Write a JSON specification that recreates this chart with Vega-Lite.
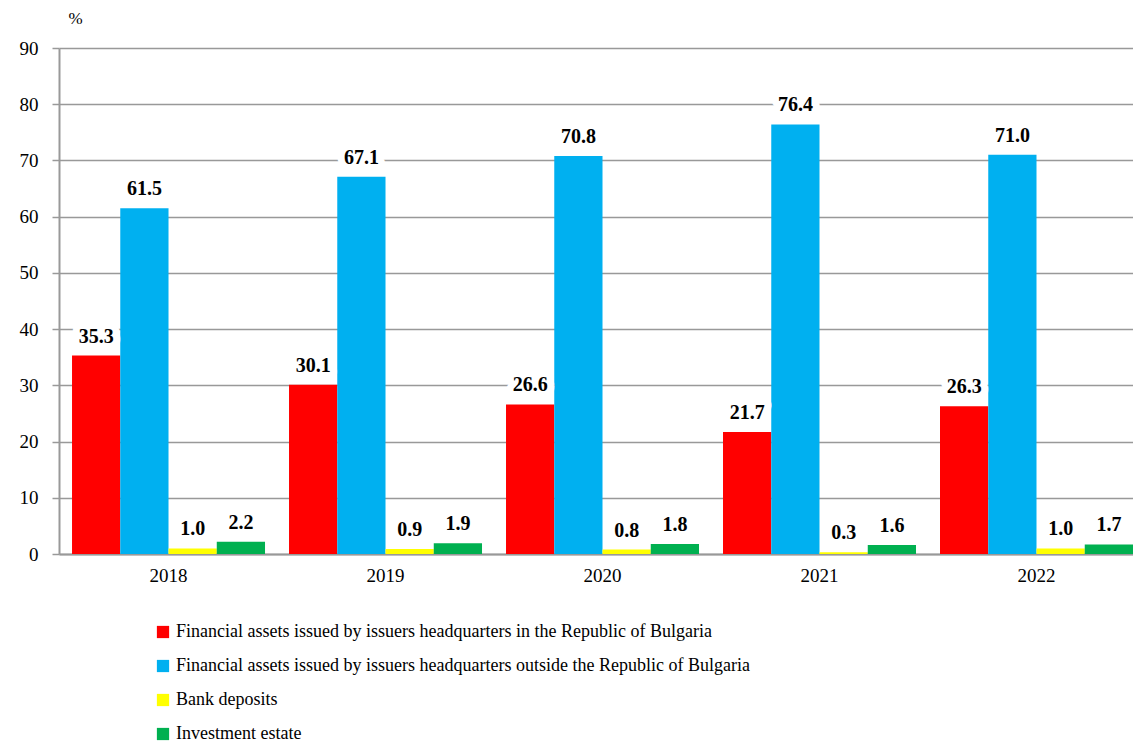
{
  "$schema": "https://vega.github.io/schema/vega-lite/v6.json",
  "width": 1074,
  "height": 506,
  "autosize": {"type": "none"},
  "padding": {"left": 59, "top": 48, "right": 0, "bottom": 188},
  "background": "white",
  "config": {
    "view": {"stroke": null},
    "font": "Liberation Serif, DejaVu Serif, serif"
  },
  "data": {
    "values": [
      {"year": "2018", "series": "Financial assets issued by issuers headquarters in the Republic of Bulgaria", "k": 1, "value": 35.3},
      {"year": "2018", "series": "Financial assets issued by issuers headquarters  outside the Republic of Bulgaria", "k": 2, "value": 61.5},
      {"year": "2018", "series": "Bank deposits", "k": 3, "value": 1.0},
      {"year": "2018", "series": "Investment estate", "k": 4, "value": 2.2},
      {"year": "2019", "series": "Financial assets issued by issuers headquarters in the Republic of Bulgaria", "k": 1, "value": 30.1},
      {"year": "2019", "series": "Financial assets issued by issuers headquarters  outside the Republic of Bulgaria", "k": 2, "value": 67.1},
      {"year": "2019", "series": "Bank deposits", "k": 3, "value": 0.9},
      {"year": "2019", "series": "Investment estate", "k": 4, "value": 1.9},
      {"year": "2020", "series": "Financial assets issued by issuers headquarters in the Republic of Bulgaria", "k": 1, "value": 26.6},
      {"year": "2020", "series": "Financial assets issued by issuers headquarters  outside the Republic of Bulgaria", "k": 2, "value": 70.8},
      {"year": "2020", "series": "Bank deposits", "k": 3, "value": 0.8},
      {"year": "2020", "series": "Investment estate", "k": 4, "value": 1.8},
      {"year": "2021", "series": "Financial assets issued by issuers headquarters in the Republic of Bulgaria", "k": 1, "value": 21.7},
      {"year": "2021", "series": "Financial assets issued by issuers headquarters  outside the Republic of Bulgaria", "k": 2, "value": 76.4},
      {"year": "2021", "series": "Bank deposits", "k": 3, "value": 0.3},
      {"year": "2021", "series": "Investment estate", "k": 4, "value": 1.6},
      {"year": "2022", "series": "Financial assets issued by issuers headquarters in the Republic of Bulgaria", "k": 1, "value": 26.3},
      {"year": "2022", "series": "Financial assets issued by issuers headquarters  outside the Republic of Bulgaria", "k": 2, "value": 71.0},
      {"year": "2022", "series": "Bank deposits", "k": 3, "value": 1.0},
      {"year": "2022", "series": "Investment estate", "k": 4, "value": 1.7}
    ]
  },
  "encoding": {
    "x": {
      "field": "year", "type": "nominal",
      "scale": {"paddingInner": 0.1106, "paddingOuter": 0.03, "align": 1},
      "axis": {
        "title": null, "labelAngle": 0, "labelFont": "Liberation Serif", "labelFontSize": 19,
        "labelColor": "black", "ticks": false, "labelPadding": 12,
        "domainColor": "#999999", "domainWidth": 2
      }
    },
    "xOffset": {"field": "k", "type": "ordinal", "scale": {"paddingInner": 0, "paddingOuter": 0}},
    "y": {
      "field": "value", "type": "quantitative",
      "scale": {"domain": [0, 90], "nice": false},
      "axis": {
        "values": [0, 10, 20, 30, 40, 50, 60, 70, 80, 90],
        "title": "%", "titleAngle": 0, "titleX": 9, "titleY": -30, "titleAlign": "left", "titleBaseline": "middle",
        "titleFont": "Liberation Serif", "titleFontSize": 17, "titleFontWeight": "normal", "titleColor": "black",
        "labelFont": "Liberation Serif", "labelFontSize": 19, "labelColor": "black", "labelPadding": 14,
        "tickSize": 7, "tickColor": "#999999", "tickWidth": 1.5,
        "domainColor": "#999999", "domainWidth": 2,
        "grid": true, "gridColor": "#999999", "gridWidth": 1.5
      }
    }
  },
  "layer": [
    {
      "mark": {"type": "bar", "width": {"band": 1}},
      "encoding": {
        "color": {
          "field": "series", "type": "nominal",
          "scale": {
            "domain": [
              "Financial assets issued by issuers headquarters in the Republic of Bulgaria",
              "Financial assets issued by issuers headquarters  outside the Republic of Bulgaria",
              "Bank deposits",
              "Investment estate"
            ],
            "range": ["#FF0000", "#00B0F0", "#FFFF00", "#00B050"]
          },
          "legend": {
            "orient": "none", "legendX": 95, "legendY": 575, "direction": "vertical",
            "title": null, "symbolType": "square", "symbolSize": 150, "symbolStrokeWidth": 0,
            "labelFont": "Liberation Serif", "labelFontSize": 18, "labelColor": "black",
            "rowPadding": 16, "labelOffset": 4, "labelLimit": 1000
          }
        }
      }
    },
    {
      "mark": {"type": "text", "baseline": "bottom", "dy": -9, "font": "Liberation Serif", "fontSize": 20, "fontWeight": "bold", "stroke": "white", "strokeWidth": 14, "strokeJoin": "round", "fill": "white"},
      "encoding": {"text": {"field": "value", "type": "quantitative", "format": ".1f"}}
    },
    {
      "mark": {"type": "text", "baseline": "bottom", "dy": -9, "font": "Liberation Serif", "fontSize": 20, "fontWeight": "bold", "color": "black"},
      "encoding": {"text": {"field": "value", "type": "quantitative", "format": ".1f"}}
    }
  ]
}
